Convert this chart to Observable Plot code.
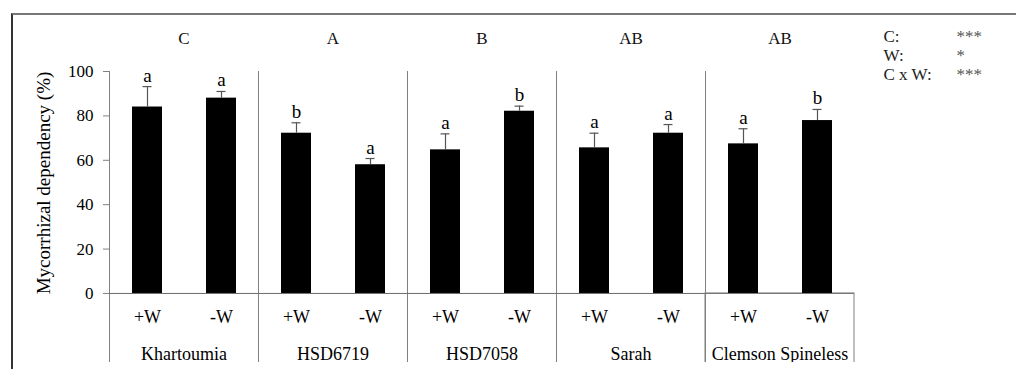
<!DOCTYPE html>
<html>
<head>
<meta charset="utf-8">
<script src="https://cdn.jsdelivr.net/npm/d3@7"></script>
<script src="https://cdn.jsdelivr.net/npm/@observablehq/plot@0.6"></script>
<style>
  html, body { margin: 0; padding: 0; background: #fff; }
  #wrap { position: relative; width: 1016px; height: 369px; overflow: hidden; background: #fff; }
  #border { position: absolute; left: 11px; top: 13px; width: 1100px; height: 400px;
            border-top: 2px solid #777; border-left: 2px solid #333; pointer-events: none; }
  #wrap svg, #wrap svg text { font-family: "Liberation Serif", serif !important; }
</style>
</head>
<body>
<div id="wrap"><div id="border"></div></div>
<script>
// ---- data ----
const cultivars = ["Khartoumia", "HSD6719", "HSD7058", "Sarah", "Clemson Spineless"];
const groupLetters = ["C", "A", "B", "AB", "AB"];
const treatments = ["+W", "-W"];
// one value per bar, cultivar by cultivar, +W then -W
const meanValues = [84, 88, 72.2, 58, 64.7, 82.1, 65.6, 72.2, 67.4, 77.9];
const seValues   = [9.2, 3.0, 4.7, 2.8, 7.2, 2.3, 6.6, 3.9, 6.8, 5.0];
const barLetters = ["a", "a", "b", "a", "a", "b", "a", "a", "a", "b"];
const yTicks = [0, 20, 40, 60, 80, 100];
const yLabel = "Mycorrhizal dependency (%)";
const legendTerms = ["C:", "W:", "C x W:"];
const legendStars = ["***", "*", "***"];

const rows = meanValues.map((v, i) => ({
  cultivar: cultivars[Math.floor(i / 2)],
  treatment: treatments[i % 2],
  value: v,
  se: seValues[i],
  letter: barLetters[i]
}));

const font = "\"Liberation Serif\", serif";
const yDomain = [-31.1, 100];

const chart = Plot.plot({
  width: 1016,
  height: 362,
  marginLeft: 108,
  marginRight: 162,
  marginTop: 71,
  marginBottom: 0,
  style: { fontFamily: font, color: "#000", background: "transparent", overflow: "hidden" },
  fx: { domain: cultivars, padding: 0, axis: null },
  x: { domain: treatments, paddingInner: 0.6, paddingOuter: 0.3, axis: null },
  y: { domain: yDomain, axis: null },
  marks: [
    Plot.frame({ anchor: "left", stroke: "#808080" }),
    Plot.ruleY([0], { stroke: "#6a6a6a" }),
    Plot.rect([cultivars[cultivars.length - 1]], {
      fx: d => d, y1: yDomain[0], y2: 0, fill: "none", stroke: "#808080", insetBottom: -4
    }),
    Plot.axisY({ ticks: yTicks, tickSize: 6, tickPadding: 10, fontSize: 17, fontFamily: font, stroke: "#808080", label: null }),
    Plot.barY(rows, { fx: "cultivar", x: "treatment", y: "value", fill: "#000" }),
    Plot.ruleX(rows, { fx: "cultivar", x: "treatment", y1: "value", y2: d => d.value + d.se, stroke: "#555", strokeWidth: 1.2 }),
    Plot.tickY(rows, { fx: "cultivar", x: "treatment", y: d => d.value + d.se, stroke: "#555", strokeWidth: 1.2, insetLeft: 10.5, insetRight: 10.5 }),
    Plot.text(rows, { fx: "cultivar", x: "treatment", y: d => d.value + d.se, text: "letter",
      lineAnchor: "bottom", dy: -5, fontSize: 19, fontFamily: font, fill: "#000" }),
    Plot.text(cultivars, { fx: d => d, text: (d, i) => groupLetters[i], frameAnchor: "top",
      lineAnchor: "bottom", dy: -28, fontSize: 17, fontFamily: font, fill: "#111" }),
    Plot.text(rows, { fx: "cultivar", x: "treatment", text: "treatment", frameAnchor: "bottom",
      lineAnchor: "bottom", dy: -40, fontSize: 18, fontFamily: font, fill: "#000" }),
    Plot.text(cultivars, { fx: d => d, text: d => d, frameAnchor: "bottom",
      lineAnchor: "bottom", dy: -3, fontSize: 18, fontFamily: font, fill: "#000" }),
    Plot.text([yLabel], { facet: "super", frameAnchor: "left", text: d => d, rotate: -90,
      textAnchor: "middle", lineAnchor: "middle", dx: -66, dy: -34, fontSize: 19, fontFamily: font, fill: "#000" }),
    Plot.text([legendTerms.join("\n")], { facet: "super", frameAnchor: "top-right", text: d => d,
      textAnchor: "start", lineAnchor: "middle", lineHeight: 1.12, dx: 29, dy: -17, fontSize: 17, fontFamily: font, fill: "#222" }),
    Plot.text([legendStars.join("\n")], { facet: "super", frameAnchor: "top-right", text: d => d,
      textAnchor: "start", lineAnchor: "middle", lineHeight: 1.12, dx: 102, dy: -17, fontSize: 17, fontFamily: font, fill: "#555" })
  ]
});

document.getElementById("wrap").insertBefore(chart, document.getElementById("border"));
</script>
</body>
</html>
